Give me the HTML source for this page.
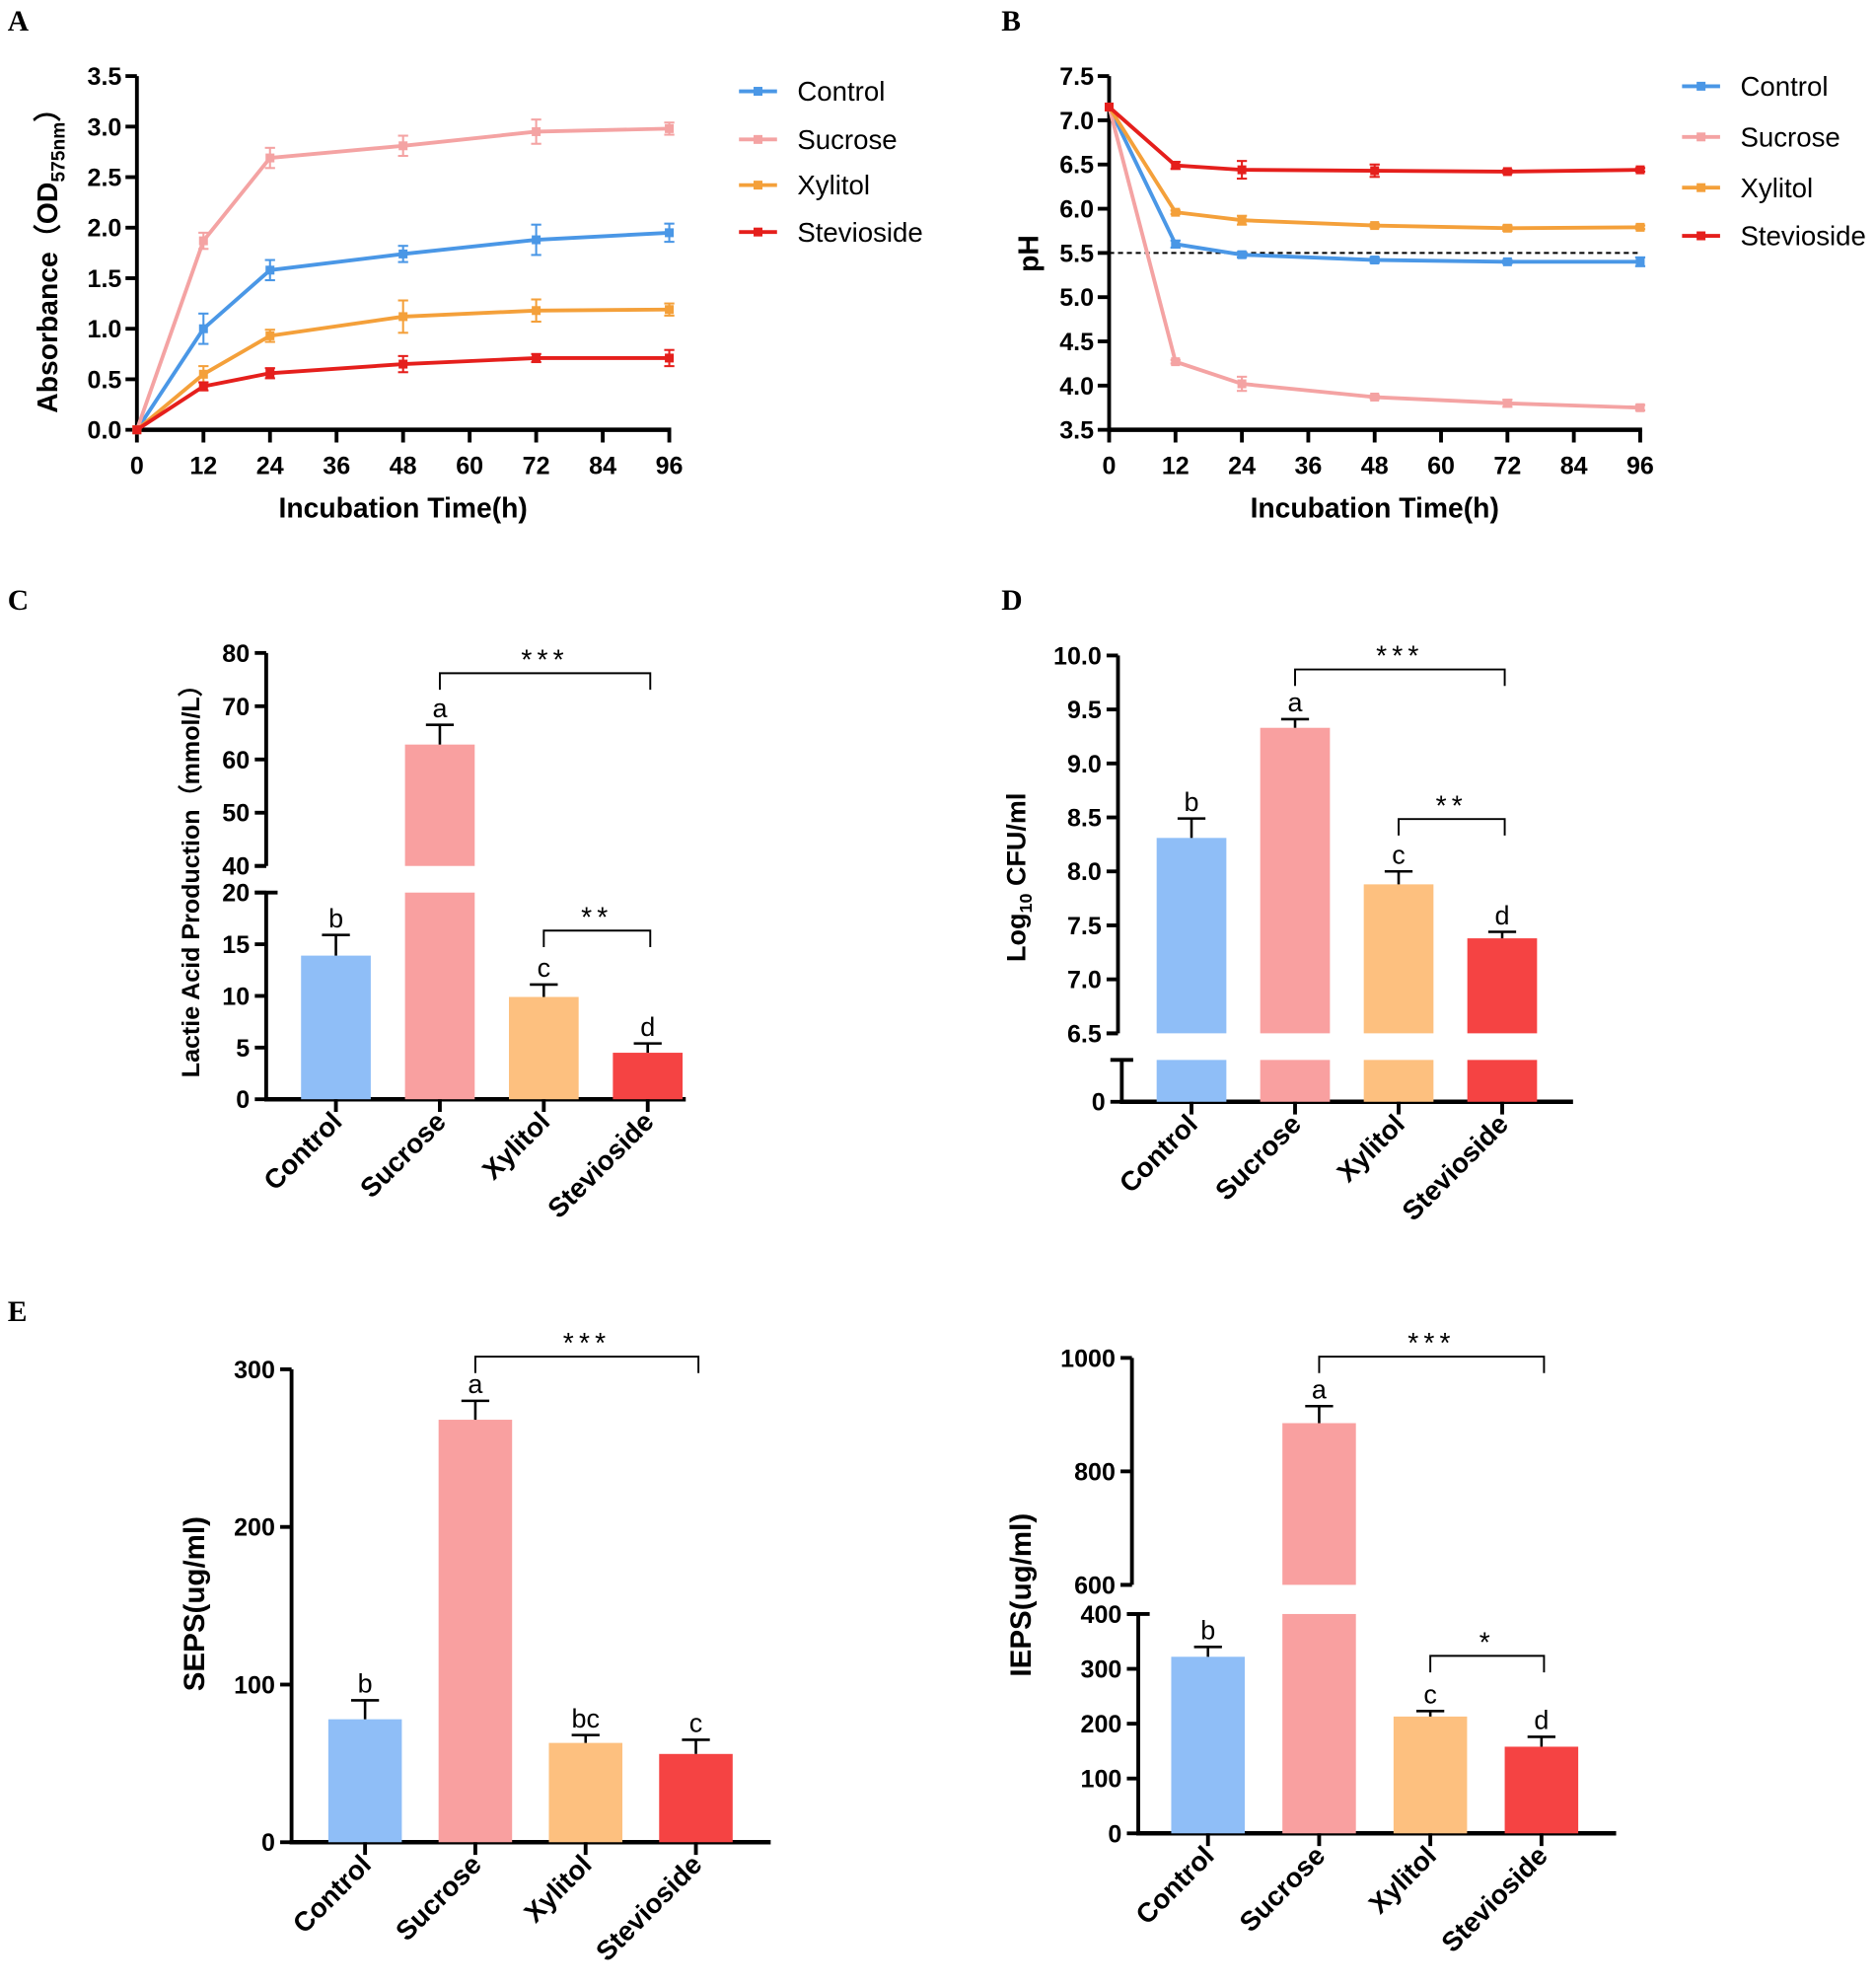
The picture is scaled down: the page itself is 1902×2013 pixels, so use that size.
<!DOCTYPE html>
<html><head><meta charset="utf-8">
<style>
html,body{margin:0;padding:0;background:#fff;}
svg{display:block;}
text{font-family:"Liberation Sans",Arial,sans-serif;}
.pl{font-family:"Liberation Serif",serif;font-weight:bold;font-size:23px;}
</style></head>
<body>
<svg id="fig" width="1902" height="2013" viewBox="0 0 1480 1566.4" xmlns="http://www.w3.org/2000/svg">
<rect width="1480" height="1566.4" fill="#fff"/>
<text class="pl" x="6" y="24">A</text>
<text class="pl" x="790" y="24">B</text>
<text class="pl" x="6" y="481">C</text>
<text class="pl" x="790" y="481">D</text>
<text class="pl" x="6" y="1042">E</text>
</svg>
<script>
// ---- Data ----
const times = [0, 12, 24, 48, 72, 96];
const seriesNames = ["Control", "Sucrose", "Xylitol", "Stevioside"];
const odControl = [0, 1.0, 1.58, 1.74, 1.88, 1.95];
const odControlErr = [0, 0.15, 0.1, 0.08, 0.15, 0.09];
const odSucrose = [0, 1.87, 2.69, 2.81, 2.95, 2.98];
const odSucroseErr = [0, 0.08, 0.1, 0.1, 0.12, 0.06];
const odXylitol = [0, 0.55, 0.93, 1.12, 1.18, 1.19];
const odXylitolErr = [0, 0.08, 0.06, 0.16, 0.11, 0.06];
const odStevioside = [0, 0.43, 0.56, 0.65, 0.71, 0.71];
const odSteviosideErr = [0, 0.04, 0.05, 0.08, 0.04, 0.08];
const odTicks = ["0.0","0.5","1.0","1.5","2.0","2.5","3.0","3.5"];
const phControl = [7.15, 5.6, 5.48, 5.42, 5.4, 5.4];
const phControlErr = [0, 0.04, 0.03, 0.03, 0.02, 0.05];
const phSucrose = [7.15, 4.27, 4.02, 3.87, 3.8, 3.75];
const phSucroseErr = [0, 0.02, 0.08, 0.02, 0.04, 0.03];
const phXylitol = [7.15, 5.96, 5.87, 5.81, 5.78, 5.79];
const phXylitolErr = [0, 0.02, 0.05, 0.02, 0.03, 0.02];
const phStevioside = [7.15, 6.49, 6.44, 6.43, 6.42, 6.44];
const phSteviosideErr = [0, 0.04, 0.1, 0.07, 0.02, 0.02];
const phTicks = ["3.5","4.0","4.5","5.0","5.5","6.0","6.5","7.0","7.5"];
const timeTicks = [0, 12, 24, 36, 48, 60, 72, 84, 96];
const lacticValues = [13.9, 62.8, 9.9, 4.5];
const lacticErr = [2.0, 3.7, 1.2, 0.9];
const lacticLetters = ["b", "a", "c", "d"];
const lacticTicksLow = [0, 5, 10, 15, 20];
const lacticTicksHigh = [40, 50, 60, 70, 80];
const cfuValues = [8.31, 9.33, 7.88, 7.38];
const cfuErr = [0.18, 0.08, 0.12, 0.06];
const cfuLetters = ["b", "a", "c", "d"];
const cfuTicksHigh = ["6.5","7.0","7.5","8.0","8.5","9.0","9.5","10.0"];
const sepsValues = [78, 268, 63, 56];
const sepsErr = [12, 12, 5, 9];
const sepsLetters = ["b", "a", "bc", "c"];
const sepsTicks = [0, 100, 200, 300];
const iepsValues = [322, 885, 213, 158];
const iepsErr = [18, 30, 10, 18];
const iepsLetters = ["b", "a", "c", "d"];
const iepsTicksLow = [0, 100, 200, 300, 400];
const iepsTicksHigh = [600, 800, 1000];

const lineColors = ["#4a97e6", "#f4a3a3", "#f4a03a", "#e51f1c"];
const barColors = ["#8fbef7", "#f9a0a0", "#fdc07f", "#f54343"];
const NS = "http://www.w3.org/2000/svg";
const svg = document.getElementById("fig");

function mk(tag, attrs, parent, txt) {
  const e = document.createElementNS(NS, tag);
  for (const k in attrs) e.setAttribute(k, attrs[k]);
  if (txt !== undefined) e.textContent = txt;
  (parent || svg).appendChild(e);
  return e;
}
function grp(name) {
  const g = mk("g", {});
  
  
  return g;
}
function lineP(g, x1, y1, x2, y2, w, c, extra) {
  const a = {x1, y1, x2, y2, stroke: c || "#000", "stroke-width": w};
  if (extra) Object.assign(a, extra);
  return mk("line", a, g);
}

// ---------- Line charts ----------
function lineChart(opt) {
  const g = grp(opt.name);
  const xs = v => opt.x0 + (v - 0) / 96 * (opt.x1 - opt.x0);
  const ys = v => opt.yb + (v - opt.vmin) / (opt.vmax - opt.vmin) * (opt.yt - opt.yb);
  const ax = lineP(g, opt.x0, opt.yt, opt.x0, opt.yb + 1.5, 3);
  
  
  const bx = lineP(g, opt.x0 - 1.5, opt.yb, opt.x1 + 1.5, opt.yb, 3.5);
  
  
  opt.yTicks.forEach(t => {
    const y = ys(parseFloat(t));
    lineP(g, opt.x0 - 9, y, opt.x0, y, 3);
    const tx = mk("text", {x: opt.x0 - 12, y: y + 7, "text-anchor": "end", "font-size": 19.5, "font-weight": "bold"}, g, t);
    
    
  });
  timeTicks.forEach(t => {
    const x = xs(t);
    lineP(g, x, opt.yb, x, opt.yb + 10, 3);
    const tx = mk("text", {x: x, y: opt.yb + 35, "text-anchor": "middle", "font-size": 19.5, "font-weight": "bold"}, g, String(t));
    
    
  });
  const xt = mk("text", {x: (opt.x0 + opt.x1) / 2, y: opt.yb + 69, "text-anchor": "middle", "font-size": 22, "font-weight": "bold"}, g, "Incubation Time(h)");
  
  
  if (opt.ref !== undefined) {
    const d = lineP(g, opt.x0, ys(opt.ref), opt.x1, ys(opt.ref), 1.6, "#000", {"stroke-dasharray": "4,3"});
    
    
  }
  opt.series.forEach((s, i) => {
    const sg = mk("g", {}, g);
    
    
    const pts = times.map((t, j) => xs(t) + "," + ys(s[j])).join(" ");
    mk("polyline", {points: pts, fill: "none", stroke: lineColors[i], "stroke-width": 3, "stroke-linejoin": "round"}, sg);
    times.forEach((t, j) => {
      const x = xs(t), y = ys(s[j]), e = opt.errs[i][j];
      if (e > 0) {
        const ey1 = ys(s[j] + e), ey2 = ys(s[j] - e);
        lineP(sg, x, ey1, x, ey2, 1.6, lineColors[i]);
        lineP(sg, x - 4, ey1, x + 4, ey1, 1.6, lineColors[i]);
        lineP(sg, x - 4, ey2, x + 4, ey2, 1.6, lineColors[i]);
      }
      const m = mk("rect", {x: x - 3.5, y: y - 3.5, width: 7, height: 7, fill: lineColors[i]}, sg);
      
      
    });
  });
  const yt = mk("text", {transform: `translate(${opt.ytx},${opt.yty}) rotate(-90)`, "text-anchor": "middle", "font-size": 22, "font-weight": "bold"}, g);
  
  
  if (opt.od) {
    mk("tspan", {}, yt, "Absorbance（OD");
    mk("tspan", {"font-size": 15, dy: 6}, yt, "575nm");
    mk("tspan", {dy: -6}, yt, "）");
  } else yt.textContent = "pH";
  const lg = mk("g", {}, g);
  
  
  seriesNames.forEach((n, i) => {
    const y = opt.legY[i];
    const le = mk("g", {}, lg);
    
    
    lineP(le, opt.legX, y, opt.legX + 30, y, 3, lineColors[i]);
    mk("rect", {x: opt.legX + 11.5, y: y - 3.5, width: 7, height: 7, fill: lineColors[i]}, le);
    mk("text", {x: opt.legX + 46, y: y + 7.5, "font-size": 21.5}, le, n);
  });
}

lineChart({name: "chart-a-absorbance", x0: 108, x1: 528, yt: 60, yb: 339, vmin: 0, vmax: 3.5,
  yTicks: odTicks, series: [odControl, odSucrose, odXylitol, odStevioside],
  errs: [odControlErr, odSucroseErr, odXylitolErr, odSteviosideErr], od: true, ytx: 45, yty: 200,
  legX: 583, legY: [72, 110, 146, 183]});
lineChart({name: "chart-b-ph", x0: 875, x1: 1294, yt: 60, yb: 339, vmin: 3.5, vmax: 7.5,
  yTicks: phTicks, series: [phControl, phSucrose, phXylitol, phStevioside],
  errs: [phControlErr, phSucroseErr, phXylitolErr, phSteviosideErr], ref: 5.5, ytx: 819, yty: 200,
  legX: 1327, legY: [68, 108, 148, 186]});

// ---------- Bar charts with (optional) broken axis ----------
function barChart(opt) {
  const g = grp(opt.name);
  function ys(v) {
    for (const s of opt.segs) if (v >= s.v0 && v <= s.v1) return s.yb + (v - s.v0) / (s.v1 - s.v0) * (s.yt - s.yb);
    const s = opt.segs[opt.segs.length - 1];
    return s.yb + (v - s.v0) / (s.v1 - s.v0) * (s.yt - s.yb);
  }
  const base = opt.segs[0].yb;
  opt.segs.forEach((s, si) => {
    const ax = s.ax;
    const a = lineP(g, ax, s.yt, ax, s.yb + (si === 0 ? 1.5 : 0), 3);
    
    
    if (si > 0) lineP(g, ax - 9, s.yb, ax, s.yb, 3);
    if (si === 0 && opt.segs.length > 1) lineP(g, ax - 9, s.yt, ax + 9, s.yt, 3);
    s.ticks.forEach(t => {
      const y = s.yb + (parseFloat(t) - s.v0) / (s.v1 - s.v0) * (s.yt - s.yb);
      lineP(g, ax - 9, y, ax, y, 3);
      const tx = mk("text", {x: ax - 13, y: y + 7, "text-anchor": "end", "font-size": 19.5, "font-weight": "bold"}, g, String(t));
      
      
    });
  });
  const xa = lineP(g, opt.segs[0].ax - 1.5, base, opt.xEnd, base, 3.5);
  
  
  opt.values.forEach((v, i) => {
    const cx = opt.cx0 + i * opt.step;
    const bg = mk("g", {}, g);
    
    
    opt.segs.forEach(s => {
      if (v <= s.v0) return;
      const top = Math.min(v, s.v1);
      const y1 = s.yb + (top - s.v0) / (s.v1 - s.v0) * (s.yt - s.yb);
      mk("rect", {x: cx - opt.bw / 2, y: y1, width: opt.bw, height: Math.max(0, s.yb - y1), fill: barColors[i]}, bg);
    });
    const vt = ys(v), et = ys(v + opt.errs[i]);
    lineP(bg, cx, vt, cx, et, 2);
    lineP(bg, cx - 11, et, cx + 11, et, 2);
    const lt = mk("text", {x: cx, y: et - 6, "text-anchor": "middle", "font-size": 21}, g, opt.letters[i]);
    
    
    lineP(g, cx, base, cx, base + 10, 3);
    const xl = mk("text", {transform: `translate(${cx + 6},${base + 19}) rotate(-45)`, "text-anchor": "end", "font-size": 21.5, "font-weight": "bold"}, g, seriesNames[i]);
    
    
  });
  opt.brackets.forEach(b => {
    const x1 = opt.cx0 + b.a * opt.step, x2 = opt.cx0 + b.b * opt.step + 2;
    const bk = mk("g", {}, g);
    
    
    mk("polyline", {points: `${x1},${b.y + 13} ${x1},${b.y} ${x2},${b.y} ${x2},${b.y + 13}`, fill: "none", stroke: "#000", "stroke-width": 1.5}, bk);
    mk("text", {x: (x1 + x2) / 2, y: b.y - 3, "text-anchor": "middle", "font-size": 22, "letter-spacing": "4"}, bk, b.s);
  });
  const yt = mk("text", {transform: `translate(${opt.ytx},${opt.yty}) rotate(-90)`, "text-anchor": "middle", "font-size": opt.ytSize, "font-weight": "bold"}, g);
  
  
  if (opt.log) {
    mk("tspan", {}, yt, "Log");
    mk("tspan", {"font-size": 14, dy: 5}, yt, "10");
    mk("tspan", {dy: -5}, yt, " CFU/ml");
  } else yt.textContent = opt.ytitle;
}

barChart({name: "chart-c-lactic-acid", values: lacticValues, errs: lacticErr, letters: lacticLetters,
  segs: [{v0: 0, v1: 20, yb: 867, yt: 704, ticks: lacticTicksLow, ax: 210},
         {v0: 40, v1: 80, yb: 683, yt: 515, ticks: lacticTicksHigh, ax: 210}],
  cx0: 265, step: 82, bw: 55, xEnd: 541,
  brackets: [{a: 1, b: 3, y: 531, s: "***"}, {a: 2, b: 3, y: 734, s: "**"}],
  ytx: 157, yty: 690, ytitle: "Lactie Acid Production（mmol/L）", ytSize: 19.5});

barChart({name: "chart-d-cfu", values: cfuValues, errs: cfuErr, letters: cfuLetters, log: true,
  segs: [{v0: 0, v1: 6.3, yb: 869, yt: 836, ticks: [0], ax: 885},
         {v0: 6.5, v1: 10.0, yb: 815, yt: 517, ticks: cfuTicksHigh, ax: 882}],
  cx0: 940, step: 81.7, bw: 55, xEnd: 1241,
  brackets: [{a: 1, b: 3, y: 528, s: "***"}, {a: 2, b: 3, y: 646, s: "**"}],
  ytx: 809, yty: 692, ytSize: 21});

barChart({name: "chart-e-seps", values: sepsValues, errs: sepsErr, letters: sepsLetters,
  segs: [{v0: 0, v1: 300, yb: 1453, yt: 1080, ticks: sepsTicks, ax: 230}],
  cx0: 288, step: 87, bw: 58, xEnd: 608,
  brackets: [{a: 1, b: 3, y: 1070, s: "***"}],
  ytx: 161, yty: 1265, ytitle: "SEPS(ug/ml)", ytSize: 23});

barChart({name: "chart-f-ieps", values: iepsValues, errs: iepsErr, letters: iepsLetters,
  segs: [{v0: 0, v1: 400, yb: 1446, yt: 1273, ticks: iepsTicksLow, ax: 898},
         {v0: 600, v1: 1000, yb: 1250, yt: 1071, ticks: iepsTicksHigh, ax: 893}],
  cx0: 953, step: 87.7, bw: 58, xEnd: 1275,
  brackets: [{a: 1, b: 3, y: 1070, s: "***"}, {a: 2, b: 3, y: 1306, s: "*"}],
  ytx: 813, yty: 1258, ytitle: "IEPS(ug/ml)", ytSize: 23});
</script>
</body></html>
